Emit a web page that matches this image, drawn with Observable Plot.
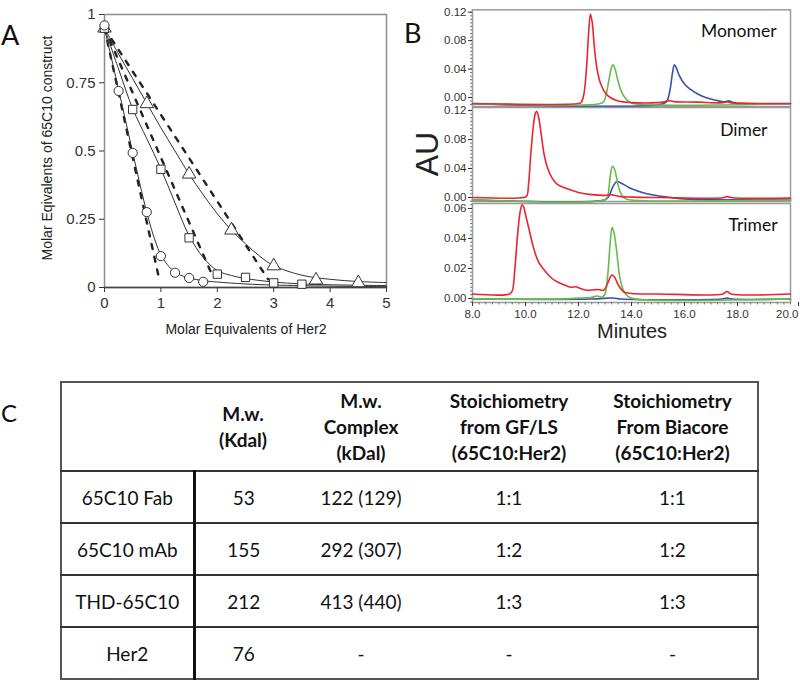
<!DOCTYPE html>
<html><head><meta charset="utf-8">
<script src="https://cdn.jsdelivr.net/npm/d3@7"></script>
<script src="https://cdn.jsdelivr.net/npm/@observablehq/plot@0.6"></script>
<style>
body{margin:0;background:#fff;}
#fig{position:relative;width:800px;height:681px;overflow:hidden;background:#fff;}
#fig svg{overflow:visible;}
.pos{position:absolute;}
#tbl{position:absolute;left:60px;top:381px;border-collapse:collapse;table-layout:fixed;font-family:Lato,"Open Sans",sans-serif;font-size:19px;color:#111;border:2px solid #555;}
#tbl th,#tbl td{padding:0;text-align:center;vertical-align:middle;}
#tbl th{font-weight:bold;line-height:26px;height:87px;}
#tbl td{height:50px;border-top:2px solid #333;}
#tbl td.first{border-right:3px solid #111;}
</style></head><body><div id="fig"></div>
<script>
// ---------- Panel A data ----------
const aXTicks = [0, 1, 2, 3, 4, 5];
const aYTicks = [0, 0.25, 0.5, 0.75, 1];
const fabX = [0, 0.25, 0.5, 0.75, 1.0, 1.25, 1.5, 1.75];
const fabY = [0.96, 0.72, 0.493, 0.276, 0.115, 0.054, 0.035, 0.021];
const mabX = [0, 0.5, 1.0, 1.5, 2.0, 2.5, 3.0, 3.5];
const mabY = [0.95, 0.652, 0.433, 0.182, 0.049, 0.037, 0.017, 0.012];
const thdX = [0, 0.75, 1.5, 2.25, 3.0, 3.75, 4.5];
const thdY = [0.95, 0.673, 0.415, 0.21, 0.079, 0.027, 0.017];
// fitted (solid) curves
const fabFitX = [0, 0.25, 0.5, 0.75, 0.9, 1.0, 1.15, 1.3, 1.5, 1.75, 2, 2.5, 3, 4, 5];
const fabFitY = [0.95, 0.725, 0.495, 0.275, 0.17, 0.12, 0.075, 0.05, 0.035, 0.025, 0.02, 0.013, 0.009, 0.005, 0.003];
const mabFitX = [0, 0.25, 0.5, 0.75, 1, 1.25, 1.5, 1.75, 2, 2.25, 2.5, 3, 3.5, 4, 5];
const mabFitY = [0.95, 0.8, 0.655, 0.545, 0.435, 0.31, 0.19, 0.11, 0.062, 0.044, 0.033, 0.02, 0.013, 0.01, 0.007];
const thdFitX = [0, 0.25, 0.5, 0.75, 1, 1.25, 1.5, 1.75, 2, 2.25, 2.5, 2.75, 3, 3.5, 4, 4.5, 5];
const thdFitY = [0.95, 0.855, 0.765, 0.675, 0.585, 0.5, 0.415, 0.34, 0.27, 0.21, 0.16, 0.115, 0.08, 0.045, 0.03, 0.022, 0.018];
// dashed (ideal stoichiometry) lines: start / end
const idealX0 = [0, 0, 0];
const idealY0 = [0.95, 0.95, 0.95];
const idealX1 = [0.96, 1.92, 2.9];
const idealY1 = [0.04, 0.04, 0.03];

// ---------- Panel B data (time [min], absorbance) ----------
const bXTicks = [8, 10, 12, 14, 16, 18];
const bXLast = [20];
const monoRed = [[8,-0.0085],[12.0,-0.0085],[12.1,-0.007],[12.2,0.004],[12.3,0.04],[12.38,0.09],[12.45,0.1175],[12.52,0.105],[12.6,0.07],[12.7,0.04],[12.83,0.02],[13.0,0.007],[13.2,0.0],[13.5,-0.005],[14.0,-0.0072],[15.0,-0.0072],[15.25,-0.0062],[15.4,-0.0045],[15.6,-0.0058],[16.5,-0.0066],[17.45,-0.0074],[17.62,-0.0062],[17.8,-0.0078],[18.5,-0.0084],[20,-0.0085]];
const monoGreen = [[8,-0.0088],[12.8,-0.0088],[12.95,-0.006],[13.05,0.005],[13.15,0.025],[13.25,0.043],[13.3,0.046],[13.38,0.04],[13.48,0.025],[13.6,0.01],[13.75,0.0],[13.9,-0.006],[14.1,-0.0088],[20,-0.0088]];
const monoBlue = [[8,-0.0088],[15.2,-0.0088],[15.35,-0.004],[15.45,0.01],[15.55,0.035],[15.62,0.046],[15.7,0.041],[15.8,0.031],[16.0,0.019],[16.2,0.012],[16.5,0.005],[16.8,0.0],[17.2,-0.004],[17.5,-0.0062],[17.65,-0.0048],[17.9,-0.0075],[18.5,-0.0086],[20,-0.0088]];
const dimRed = [[8,0.0],[9.95,0.0],[10.05,0.002],[10.12,0.02],[10.2,0.06],[10.3,0.1],[10.37,0.116],[10.42,0.119],[10.5,0.11],[10.6,0.085],[10.7,0.06],[10.82,0.042],[11.0,0.027],[11.2,0.018],[11.5,0.013],[12.0,0.007],[12.5,0.004],[13.0,0.003],[13.2,0.004],[13.35,0.003],[13.6,0.0012],[14,0.0005],[15,0.0],[17.45,-0.0004],[17.6,0.0012],[17.8,-0.0004],[20,-0.0008]];
const dimGreen = [[8,-0.003],[13.0,-0.003],[13.1,0.002],[13.2,0.03],[13.28,0.043],[13.35,0.04],[13.45,0.025],[13.55,0.01],[13.7,0.0],[13.9,-0.003],[20,-0.003]];
const dimBlue = [[8,-0.003],[13.0,-0.003],[13.15,0.002],[13.3,0.015],[13.45,0.022],[13.6,0.02],[13.8,0.016],[14.0,0.012],[14.5,0.006],[15.0,0.0025],[15.5,0.0],[16,-0.002],[17,-0.003],[20,-0.003]];
const triRed = [[8,0.003],[9.4,0.003],[9.5,0.005],[9.6,0.02],[9.7,0.042],[9.8,0.058],[9.87,0.0625],[9.93,0.061],[10.0,0.056],[10.15,0.045],[10.3,0.034],[10.5,0.024],[10.8,0.017],[11.1,0.012],[11.4,0.0095],[11.7,0.0075],[11.9,0.0078],[12.05,0.0068],[12.3,0.0055],[12.6,0.0058],[12.75,0.006],[12.95,0.0055],[13.1,0.01],[13.25,0.0155],[13.35,0.0145],[13.5,0.009],[13.7,0.0045],[14,0.0033],[15,0.003],[17.45,0.003],[17.6,0.0046],[17.75,0.003],[20,0.003]];
const triGreen = [[8,-0.0003],[11.5,-0.0003],[12.0,0.0002],[12.5,0.0008],[12.7,0.0016],[12.9,0.0009],[13.0,0.003],[13.1,0.015],[13.2,0.038],[13.27,0.0475],[13.35,0.043],[13.45,0.03],[13.55,0.015],[13.7,0.005],[13.85,0.0015],[14.1,-0.0003],[20,-0.0003]];
const triBlue = [[8,-0.0004],[12.5,-0.0004],[13.3,0.0003],[13.6,-0.0004],[17.4,-0.0004],[17.6,0.0002],[17.8,-0.0004],[20,-0.0004]];

// ---------- Table C data ----------
const tableHeader = [[""], ["M.w.", "(Kdal)"], ["M.w.", "Complex", "(kDal)"], ["Stoichiometry", "from GF/LS", "(65C10:Her2)"], ["Stoichiometry", "From Biacore", "(65C10:Her2)"]];
const constructs = ["65C10 Fab", "65C10 mAb", "THD-65C10", "Her2"];
const mwKdal = ["53", "155", "212", "76"];
const mwComplex = ["122 (129)", "292 (307)", "413 (440)", "-"];
const stoichGF = ["1:1", "1:2", "1:3", "-"];
const stoichBiacore = ["1:1", "1:2", "1:3", "-"];

const RED = "#ea2530", GREEN = "#66bb4a", BLUE = "#3553a8";
const fig = document.getElementById("fig");
const zip = (xs, ys, s) => xs.map((x, i) => ({x, y: ys[i], s}));

// ---------- Panel A ----------
const fitData = [...zip(fabFitX, fabFitY, "fab"), ...zip(mabFitX, mabFitY, "mab"), ...zip(thdFitX, thdFitY, "thd")];
const idealData = idealX0.flatMap((x0, i) => [{x: x0, y: idealY0[i], s: "i" + i}, {x: idealX1[i], y: idealY1[i], s: "i" + i}]);
const dotStyle = {x: "x", y: "y", fill: "white", stroke: "#333", strokeWidth: 1};
const plotA = Plot.plot({
  width: 410, height: 345,
  marginLeft: 104, marginRight: 24, marginTop: 14, marginBottom: 58,
  x: {domain: [0, 5]}, y: {domain: [0, 1]},
  style: {fontFamily: "'Liberation Sans', Arial, sans-serif", fontSize: "15px", color: "#333", background: "none"},
  marks: [
    Plot.frame({stroke: "#8c8c8c", strokeWidth: 1.5}),
    Plot.axisX({ticks: aXTicks, tickSize: 5, tickPadding: 5, tickFormat: d => String(d), label: null}),
    Plot.axisY({ticks: aYTicks, tickSize: 5, tickPadding: 4, tickFormat: d => String(d), label: null}),
    Plot.ruleY([0], {stroke: "#444", strokeWidth: 1.5}),
    Plot.line(idealData, {x: "x", y: "y", z: "s", stroke: "#222", strokeWidth: 2.4, strokeDasharray: "5,8"}),
    Plot.line(fitData, {x: "x", y: "y", z: "s", stroke: "#333", strokeWidth: 1, curve: "catmull-rom"}),
    Plot.dot(zip(thdX, thdY), {...dotStyle, symbol: "triangle", r: 5}),
    Plot.dot(zip(mabX, mabY), {...dotStyle, symbol: "square", r: 4.7}),
    Plot.dot(zip(fabX, fabY), {...dotStyle, symbol: "circle", r: 4.6})
  ]
});
plotA.classList.add("pos"); plotA.style.left = "0px"; plotA.style.top = "0px";
fig.appendChild(plotA);

// ---------- Panel B ----------
function toRows(arr) { return arr.map(([t, v]) => ({t, v})); }
function chrom({top, height, mt, mb, yDomain, yTicks, name, dx, dy, red, green, blue, showX}) {
  const step = yTicks[1] / 8;
  const minor = d3.range(0, yDomain[1], step).concat(d3.range(-step, yDomain[0], -step));
  const lineOpts = {x: "t", y: "v", strokeWidth: 1.6, curve: "catmull-rom"};
  const marks = [
    Plot.frame({stroke: "#999", strokeWidth: 1.5}),
    Plot.axisY({ticks: minor, tickSize: 2, tickFormat: () => "", label: null, stroke: "#777"}),
    Plot.axisY({ticks: yTicks, tickSize: 4, tickPadding: 2, tickFormat: d3.format(".2f"), label: null}),
    Plot.line(toRows(blue), {...lineOpts, stroke: BLUE}),
    Plot.line(toRows(green), {...lineOpts, stroke: GREEN}),
    Plot.line(toRows(red), {...lineOpts, stroke: RED}),
    Plot.text([name], {frameAnchor: "top-right", dx, dy, lineAnchor: "top", fontSize: 17.5, fontFamily: "Lato, 'Open Sans', sans-serif", fill: "#111"})
  ];
  if (showX) {
    marks.push(Plot.axisX({ticks: d3.range(8, 20.01, 0.25), tickSize: 2.5, tickFormat: () => "", label: null, stroke: "#777"}));
    marks.push(Plot.axisX({ticks: bXTicks, tickSize: 4, tickPadding: 3, tickFormat: d3.format(".1f"), label: null}));
    marks.push(Plot.axisX({ticks: bXLast, tickSize: 4, tickPadding: 3, tickFormat: d3.format(".1f"), label: null, textAnchor: "end", dx: 8}));
  }
  const p = Plot.plot({
    width: 400, height,
    marginLeft: 72, marginRight: 10, marginTop: mt, marginBottom: mb,
    x: {domain: [8, 20], axis: showX ? undefined : null},
    y: {domain: yDomain},
    style: {fontFamily: "'Liberation Sans', Arial, sans-serif", fontSize: "11.5px", color: "#333", background: "none"},
    marks
  });
  p.classList.add("pos"); p.style.left = "400px"; p.style.top = top + "px";
  fig.appendChild(p);
}
chrom({top: 0, height: 110, mt: 9.3, mb: 4, yDomain: [-0.0127, 0.1234], yTicks: [0, 0.04, 0.08, 0.12], name: "Monomer", dx: -14, dy: 15, red: monoRed, green: monoGreen, blue: monoBlue, showX: false});
chrom({top: 100, height: 106, mt: 7, mb: 5, yDomain: [-0.0055, 0.1241], yTicks: [0, 0.04, 0.08, 0.12], name: "Dimer", dx: -23, dy: 16, red: dimRed, green: dimGreen, blue: dimBlue, showX: false});
chrom({top: 196, height: 150, mt: 7, mb: 44, yDomain: [-0.0027, 0.0633], yTicks: [0, 0.02, 0.04, 0.06], name: "Trimer", dx: -13, dy: 15, red: triRed, green: triGreen, blue: triBlue, showX: true});

// ---------- overlay titles ----------
const NS = "http://www.w3.org/2000/svg";
const ov = document.createElementNS(NS, "svg");
ov.setAttribute("width", 800); ov.setAttribute("height", 681);
ov.setAttribute("class", "pos"); ov.style.left = "0px"; ov.style.top = "0px"; ov.style.pointerEvents = "none";
function txt(str, x, y, size, family, opts = {}) {
  const t = document.createElementNS(NS, "text");
  t.textContent = str;
  t.setAttribute("x", x); t.setAttribute("y", y);
  t.setAttribute("font-size", size); t.setAttribute("font-family", family);
  t.setAttribute("fill", opts.fill || "#222");
  if (opts.anchor) t.setAttribute("text-anchor", opts.anchor);
  if (opts.rotate) t.setAttribute("transform", `rotate(-90 ${x} ${y})`);
  ov.appendChild(t);
}
const ARIAL = "'Liberation Sans', Arial, sans-serif";
const LATO = "Lato, 'Open Sans', sans-serif";
txt("A", 1, 45, 27, LATO, {fill: "#111"});
txt("B", 404, 43, 27, LATO, {fill: "#111"});
txt("C", 1, 422, 24, LATO, {fill: "#111"});
txt("Molar Eqivalents of 65C10 construct", 52, 148, 14, ARIAL, {anchor: "middle", rotate: true});
txt("Molar Equivalents of Her2", 246, 334, 14, ARIAL, {anchor: "middle"});
txt("AU", 438, 154, 32, ARIAL, {anchor: "middle", rotate: true});
txt("Minutes", 632, 338, 20, ARIAL, {anchor: "middle"});
fig.appendChild(ov);

// ---------- Table C ----------
const tbl = document.createElement("table");
tbl.id = "tbl";
const colW = [133, 98, 138, 158, 170];
const cg = document.createElement("colgroup");
colW.forEach(w => { const c = document.createElement("col"); c.style.width = w + "px"; cg.appendChild(c); });
tbl.appendChild(cg);
const hr = document.createElement("tr");
tableHeader.forEach(lines => { const th = document.createElement("th"); th.innerHTML = lines.join("<br>"); hr.appendChild(th); });
tbl.appendChild(hr);
constructs.forEach((c, i) => {
  const tr = document.createElement("tr");
  [c, mwKdal[i], mwComplex[i], stoichGF[i], stoichBiacore[i]].forEach((v, j) => {
    const td = document.createElement("td"); td.textContent = v; if (j === 0) td.className = "first"; tr.appendChild(td);
  });
  tbl.appendChild(tr);
});
fig.appendChild(tbl);
</script></body></html>
